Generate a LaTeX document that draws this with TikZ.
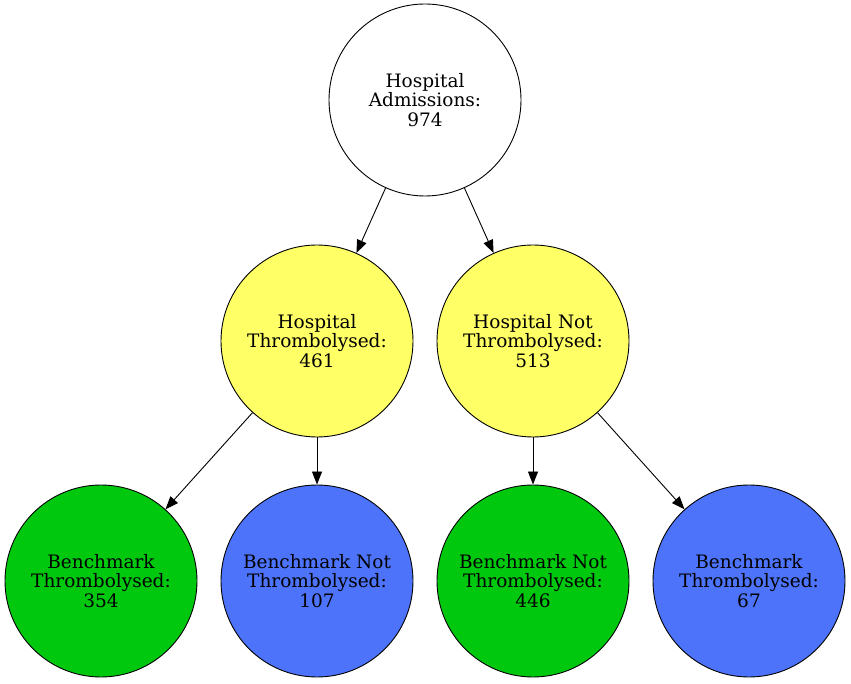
\documentclass[tikz,border=0pt]{standalone}
\usepackage{fontspec}
\setmainfont{DejaVu Serif}
\usetikzlibrary{arrows.meta}

\definecolor{admitwhite}{RGB}{255,255,255}
\definecolor{hospyellow}{RGB}{255,255,102}
\definecolor{benchgreen}{RGB}{0,200,15}
\definecolor{benchblue}{RGB}{77,115,250}

\tikzset{
	state/.style={circle,draw,line width=0.9pt,minimum size=192pt,inner sep=0pt,
		align=center,font=\fontsize{18.5}{19.5}\selectfont},
	flow/.style={-{Triangle[length=13pt,width=10pt]},line width=0.9pt}
}

\begin{document}
\begin{tikzpicture}[x=1pt,y=1pt]

	\useasboundingbox (0,0) rectangle (851,683);

	\def\top{583}
	\def\mid{342}
	\def\low{102}

	\node[state,fill=admitwhite] (admit) at (425,\top) {Hospital\\Admissions:\\974};

	\node[state,fill=hospyellow] (hosp) at (317,\mid) {Hospital\\Thrombolysed:\\461};
	\node[state,fill=hospyellow] (hospnot) at (533,\mid) {Hospital Not\\Thrombolysed:\\513};

	\node[state,fill=benchgreen] (benchA) at (101,\low) {Benchmark\\Thrombolysed:\\354};
	\node[state,fill=benchblue] (benchB) at (317,\low) {Benchmark Not\\Thrombolysed:\\107};
	\node[state,fill=benchgreen] (benchC) at (533,\low) {Benchmark Not\\Thrombolysed:\\446};
	\node[state,fill=benchblue] (benchD) at (749,\low) {Benchmark\\Thrombolysed:\\67};

	\draw[flow] (admit) -- (hosp);
	\draw[flow] (admit) -- (hospnot);
	\draw[flow] (hosp) -- (benchA);
	\draw[flow] (hosp) -- (benchB);
	\draw[flow] (hospnot) -- (benchC);
	\draw[flow] (hospnot) -- (benchD);
\end{tikzpicture}
\end{document}
